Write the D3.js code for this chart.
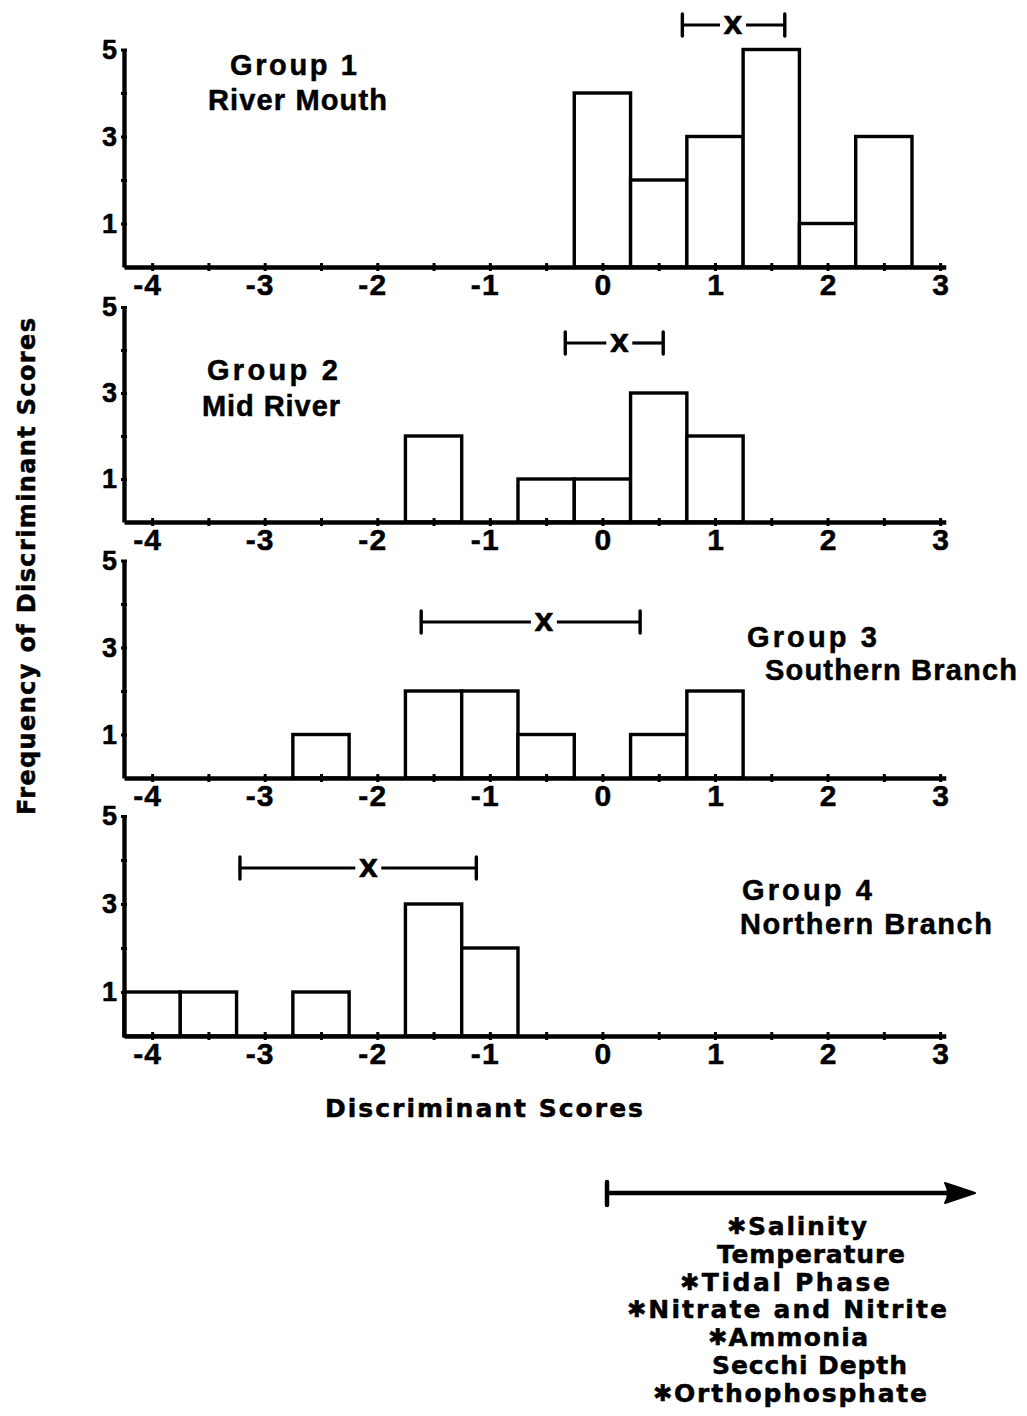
<!DOCTYPE html>
<html>
<head>
<meta charset="utf-8">
<script src="https://cdn.jsdelivr.net/npm/d3@7"></script>
<style>
  body { margin: 0; background: #fff; }
  svg text { font-family: "Liberation Sans", Arial, Helvetica, sans-serif; font-weight: bold; fill: #000; stroke: #000; stroke-width: 0.5px; }
  svg text.wide { font-family: "DejaVu Sans", "Liberation Sans", sans-serif; }
</style>
</head>
<body>
<svg id="chart" width="1027" height="1416"></svg>
<script>
// Left edge of each half-unit class of discriminant score
const binStarts = [-4.25, -3.75, -3.25, -2.75, -2.25, -1.75, -1.25, -0.75, -0.25, 0.25, 0.75, 1.25, 1.75, 2.25];
const binWidth = 0.5;

// Frequency of scores in each class, one list per group
const countsGroup1 = [0, 0, 0, 0, 0, 0, 0, 0, 4, 2, 3, 5, 1, 3];
const countsGroup2 = [0, 0, 0, 0, 0, 2, 0, 1, 1, 3, 2, 0, 0, 0];
const countsGroup3 = [0, 0, 0, 1, 0, 2, 2, 1, 0, 1, 2, 0, 0, 0];
const countsGroup4 = [1, 1, 0, 1, 0, 3, 2, 0, 0, 0, 0, 0, 0, 0];

const groupNames = ["Group 1", "Group 2", "Group 3", "Group 4"];
const groupSites = ["River Mouth", "Mid River", "Southern Branch", "Northern Branch"];

// Group mean (X) and the ends of its interval bar
const meanScore    = [1.16, 0.15, -0.52, -2.08];
const intervalLow  = [0.71, -0.33, -1.61, -3.22];
const intervalHigh = [1.62, 0.54, 0.335, -1.12];

const xTickLabels = [-4, -3, -2, -1, 0, 1, 2, 3];
const yTickLabels = [1, 3, 5];

// Variables increasing along the discriminant axis (* = significant)
const factors = ["Salinity", "Temperature", "Tidal Phase", "Nitrate and Nitrite", "Ammonia", "Secchi Depth", "Orthophosphate"];
const factorStarred = [true, false, true, true, true, false, true];

// ---- layout ----
const counts = [countsGroup1, countsGroup2, countsGroup3, countsGroup4];
const panelLayout = [
  { base: 267,  top: 49.5,  barY: 25,
    titles: [{ x: 230, y: 75, w: 127 }, { x: 208, y: 110, w: 179 }] },
  { base: 522,  top: 307,   barY: 343,
    titles: [{ x: 207, y: 380, w: 131 }, { x: 202, y: 416, w: 138 }] },
  { base: 778,  top: 560.5, barY: 622,
    titles: [{ x: 747, y: 647, w: 130 }, { x: 765, y: 680, w: 252 }] },
  { base: 1036, top: 816,   barY: 868,
    titles: [{ x: 742, y: 900, w: 130 }, { x: 740, y: 934, w: 252 }] }
];
const legendLayout = [
  { x: 727, w: 140 }, { x: 717, w: 188 }, { x: 680, w: 210 }, { x: 627, w: 320 },
  { x: 708, w: 160 }, { x: 712, w: 195 }, { x: 653, w: 274 }
];

const svg = d3.select("#chart");
const unit = 112.57;
const x = d3.scaleLinear().domain([-4.25, 3.05]).range([124, 124 + 7.3 * unit]);

const halfSteps = d3.range(-4, 3.001, 0.5);

panelLayout.forEach((p, gi) => {
  const y = d3.scaleLinear().domain([0, 5]).range([p.base, p.top]);
  const g = svg.append("g");

  // histogram bars
  const bins = binStarts.map((s, i) => ({ start: s, n: counts[gi][i] })).filter(d => d.n > 0);
  g.selectAll("rect.bar").data(bins).join("rect")
    .attr("class", "bar")
    .attr("x", d => x(d.start))
    .attr("width", d => x(d.start + binWidth) - x(d.start))
    .attr("y", d => y(d.n))
    .attr("height", d => y(0) - y(d.n))
    .attr("fill", "#fff")
    .attr("stroke", "#000")
    .attr("stroke-width", 3.4);

  // x axis
  const xAxis = g.append("g")
    .attr("transform", `translate(0,${p.base})`)
    .call(d3.axisBottom(x)
      .tickValues(halfSteps)
      .tickSizeOuter(0)
      .tickSize(0)
      .tickFormat(d => (Number.isInteger(d) && xTickLabels.includes(d)) ? String(Math.abs(d)) : ""));
  xAxis.select(".domain").attr("stroke", "#000").attr("stroke-width", 4.4);
  xAxis.selectAll(".tick line").attr("y1", -4).attr("y2", 4).attr("stroke", "#000").attr("stroke-width", 3);
  xAxis.selectAll(".tick text")
    .attr("y", 28).attr("dy", 0)
    .style("font-size", "30px");
  xAxis.selectAll(".tick").filter(d => Number.isInteger(d) && d < 0)
    .append("text")
    .attr("x", -9.5).attr("y", 28)
    .attr("text-anchor", "end")
    .style("font-size", "30px")
    .text("-");
  xAxis.attr("font-family", null).attr("font-size", null);

  // y axis
  const yAxis = g.append("g")
    .attr("transform", `translate(${x(-4.25)},0)`)
    .call(d3.axisLeft(y)
      .tickValues([1, 2, 3, 4, 5])
      .tickSizeOuter(0)
      .tickSize(0)
      .tickPadding(7)
      .tickFormat(d => yTickLabels.includes(d) ? String(d) : ""));
  yAxis.select(".domain").attr("stroke", "#000").attr("stroke-width", 4.4);
  yAxis.selectAll(".tick line").attr("x1", -3).attr("x2", 3).attr("stroke", "#000").attr("stroke-width", 3);
  yAxis.selectAll(".tick text").style("font-size", "27px");
  yAxis.attr("font-family", null).attr("font-size", null);

  // mean with its interval bar
  const yb = p.barY;
  const mx = x(meanScore[gi]);
  const half = 9, gap = 4;
  const segs = [[x(intervalLow[gi]), mx - half - gap], [mx + half + gap, x(intervalHigh[gi])]];
  g.selectAll("line.iv").data(segs).join("line")
    .attr("class", "iv")
    .attr("x1", d => d[0]).attr("x2", d => d[1])
    .attr("y1", yb).attr("y2", yb)
    .attr("stroke", "#000").attr("stroke-width", 3.2);
  g.selectAll("line.cap").data([intervalLow[gi], intervalHigh[gi]]).join("line")
    .attr("class", "cap")
    .attr("x1", d => x(d)).attr("x2", d => x(d))
    .attr("y1", yb - 11).attr("y2", yb + 11)
    .attr("stroke", "#000").attr("stroke-width", 3.4)
    .attr("stroke-linecap", "round");
  g.append("text")
    .attr("class", "wide")
    .attr("x", mx).attr("y", yb + 9)
    .attr("text-anchor", "middle")
    .style("font-size", "25px")
    .text("X");

  // group title
  [groupNames[gi], groupSites[gi]].forEach((t, k) => {
    const L = p.titles[k];
    g.append("text")
      .attr("x", L.x).attr("y", L.y)
      .attr("textLength", L.w).attr("lengthAdjust", "spacing")
      .style("font-size", "29px")
      .text(t);
  });
});

// axis titles
svg.append("text")
  .attr("class", "wide")
  .attr("x", 325).attr("y", 1117)
  .attr("textLength", 318).attr("lengthAdjust", "spacing")
  .style("font-size", "25px")
  .text("Discriminant Scores");

svg.append("text")
  .attr("class", "wide")
  .attr("transform", "translate(35,815) rotate(-90)")
  .attr("x", 0).attr("y", 0)
  .attr("textLength", 497).attr("lengthAdjust", "spacing")
  .style("font-size", "24px")
  .text("Frequency of Discriminant Scores");

// direction arrow
const ay = 1193;
svg.append("line").attr("x1", 607).attr("x2", 952).attr("y1", ay).attr("y2", ay)
  .attr("stroke", "#000").attr("stroke-width", 4.5);
svg.append("line").attr("x1", 607).attr("x2", 607).attr("y1", ay - 11).attr("y2", ay + 12)
  .attr("stroke", "#000").attr("stroke-width", 4.5).attr("stroke-linecap", "round");
svg.append("path")
  .attr("d", `M975,${ay} L945,${ay - 10} Q951,${ay} 945,${ay + 10} Z`)
  .attr("fill", "#000").attr("stroke", "#000").attr("stroke-width", 2).attr("stroke-linejoin", "round");

// variable list
factors.forEach((f, i) => {
  const L = legendLayout[i];
  const t = svg.append("text")
    .attr("class", "wide")
    .attr("x", L.x).attr("y", 1235 + i * 27.8)
    .attr("textLength", L.w).attr("lengthAdjust", "spacing")
    .style("font-size", "25px");
  if (factorStarred[i]) {
    t.append("tspan").style("font-size", "23px").attr("dy", -1).text("\u2731");
    t.append("tspan").attr("dy", 1).text(f);
  } else {
    t.text(f);
  }
});
</script>
</body>
</html>
